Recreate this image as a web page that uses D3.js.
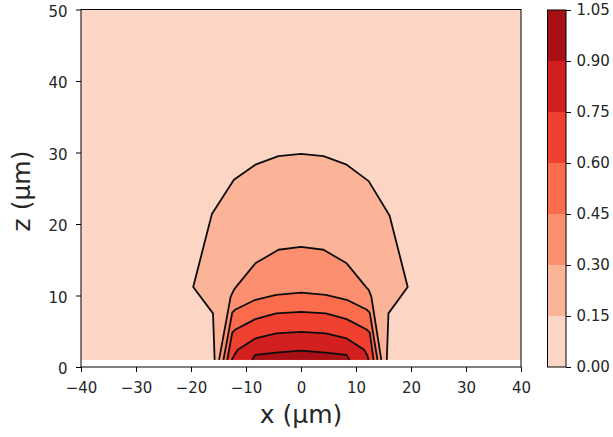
<!DOCTYPE html>
<html>
<head>
<meta charset="utf-8">
<script src="https://cdn.jsdelivr.net/npm/d3@7"></script>
<style>
  body { margin: 0; background: #fff; }
  svg text { font-family: "DejaVu Sans", sans-serif; fill: #262626; }
</style>
</head>
<body>
<svg id="chart" width="613" height="437"></svg>
<script>
// Contour levels and the fill colour of each band between consecutive levels
const levels = [0, 0.15, 0.30, 0.45, 0.60, 0.75, 0.90, 1.05];
const bandColors = ["#fdd5c4", "#fcb499", "#fc8f6f", "#fb6c4c", "#f0402f", "#d21f20", "#a91016"];

const xTicks = [-40, -30, -20, -10, 0, 10, 20, 30, 40];
const zTicks = [0, 10, 20, 30, 40, 50];

// Field extent (µm): data covers x in [-40, 40], z in [1, 50]
const xExtent = [-40, 40];
const zExtent = [1, 50];

// Iso-lines [x, z] in µm, left foot -> right foot (both feet sit on z = 1)
const line015 = [[-15.7, 1], [-16.0, 7.5], [-19.6, 11.2], [-16.2, 21.4], [-12.2, 26.2], [-8.3, 28.3],
                 [-4.1, 29.5], [0, 29.8], [4.1, 29.5], [8.3, 28.3], [12.3, 26.0], [16.1, 21.2],
                 [19.4, 11.2], [15.9, 7.5], [15.6, 1]];
const line030 = [[-14.9, 1], [-12.8, 9.8], [-12.2, 10.8], [-11.8, 11.2], [-8.3, 14.5], [-4.1, 16.4],
                 [0, 16.8], [4.1, 16.4], [8.3, 14.5], [11.8, 11.2], [12.3, 10.8], [12.8, 9.8], [14.6, 1]];
const line045 = [[-14.1, 1], [-12.5, 7.6], [-12.0, 8.0], [-8.3, 9.4], [-4.5, 10.1], [0, 10.4],
                 [4.5, 10.1], [8.3, 9.4], [12.0, 8.0], [12.5, 7.6], [13.9, 1]];
const line060 = [[-13.4, 1], [-12.5, 4.8], [-12.0, 5.2], [-8.3, 6.7], [-4.5, 7.5], [0, 7.7],
                 [4.5, 7.5], [8.3, 6.7], [12.0, 5.2], [12.5, 4.8], [13.2, 1]];
const line075 = [[-12.6, 1], [-12.1, 1.7], [-11.5, 2.4], [-8.3, 4.0], [-4.5, 4.7], [0, 4.9],
                 [4.5, 4.7], [8.3, 4.0], [11.5, 2.4], [12.0, 1.7], [12.3, 1]];
const line090 = [[-8.9, 1], [-8.3, 1.7], [-4.5, 2.0], [0, 2.3], [4.5, 2.0], [8.3, 1.7], [8.8, 1]];

const isoLines = [line015, line030, line045, line060, line075, line090];

const svg = d3.select("#chart");

// Plot frame
const plot = { left: 81, right: 521, top: 9.5, bottom: 367 };
const x = d3.scaleLinear().domain([-40, 40]).range([plot.left, plot.right]);
const z = d3.scaleLinear().domain([0, 50]).range([plot.bottom, plot.top]);

svg.append("defs").append("clipPath").attr("id", "plotClip")
  .append("rect")
  .attr("x", plot.left).attr("y", plot.top)
  .attr("width", plot.right - plot.left).attr("height", plot.bottom - plot.top);

const field = svg.append("g").attr("clip-path", "url(#plotClip)");

// Lowest band fills the whole data extent
field.append("rect")
  .attr("x", x(xExtent[0]))
  .attr("y", z(zExtent[1]))
  .attr("width", x(xExtent[1]) - x(xExtent[0]))
  .attr("height", z(zExtent[0]) - z(zExtent[1]))
  .attr("fill", bandColors[0]);

const lineGen = d3.line().x(d => x(d[0])).y(d => z(d[1]));

// Each iso-line closes along z = 1 and encloses the next band up
field.selectAll("path.band")
  .data(isoLines)
  .join("path")
  .attr("class", "band")
  .attr("d", d => lineGen(d) + "Z")
  .attr("fill", (d, i) => bandColors[i + 1]);

field.selectAll("path.iso")
  .data(isoLines)
  .join("path")
  .attr("class", "iso")
  .attr("d", d => lineGen(d))
  .attr("fill", "none")
  .attr("stroke", "#0d0d0d")
  .attr("stroke-width", 1.8)
  .attr("stroke-linejoin", "round");

// Axes
const fontSize = 15;
const xAxis = svg.append("g")
  .attr("transform", `translate(0,${plot.bottom})`)
  .call(d3.axisBottom(x).tickValues(xTicks).tickSize(5).tickPadding(10).tickSizeOuter(0));
const zAxis = svg.append("g")
  .attr("transform", `translate(${plot.left},0)`)
  .call(d3.axisLeft(z).tickValues(zTicks).tickSize(5).tickPadding(8.5).tickSizeOuter(0));

[xAxis, zAxis].forEach(g => {
  g.select(".domain").remove();
  g.selectAll(".tick line").attr("stroke", "#000").attr("stroke-width", 1);
  g.selectAll(".tick text").attr("font-size", fontSize).attr("font-family", "DejaVu Sans").attr("fill", "#262626");
});
zAxis.selectAll(".tick text").attr("dy", "0.45em");

// Frame (spines)
svg.append("rect")
  .attr("x", plot.left).attr("y", plot.top)
  .attr("width", plot.right - plot.left).attr("height", plot.bottom - plot.top)
  .attr("fill", "none").attr("stroke", "#000").attr("stroke-width", 1);

// Axis titles
svg.append("text")
  .attr("x", (plot.left + plot.right) / 2).attr("y", 423)
  .attr("text-anchor", "middle").attr("font-size", 25)
  .text("x (µm)");
svg.append("text")
  .attr("transform", `translate(30,191) rotate(-90)`)
  .attr("text-anchor", "middle").attr("font-size", 25)
  .text("z (µm)");

// Colour bar
const cb = { left: 547.5, right: 566, top: 10, bottom: 367 };
const c = d3.scaleLinear().domain([levels[0], levels[levels.length - 1]]).range([cb.bottom, cb.top]);
const bands = d3.range(levels.length - 1).map(i => ({ lo: levels[i], hi: levels[i + 1], color: bandColors[i] }));

svg.append("g").selectAll("rect")
  .data(bands)
  .join("rect")
  .attr("x", cb.left)
  .attr("y", d => c(d.hi))
  .attr("width", cb.right - cb.left)
  .attr("height", d => c(d.lo) - c(d.hi))
  .attr("fill", d => d.color)
  .attr("shape-rendering", "crispEdges");

svg.append("rect")
  .attr("x", cb.left).attr("y", cb.top)
  .attr("width", cb.right - cb.left).attr("height", cb.bottom - cb.top)
  .attr("fill", "none").attr("stroke", "#000").attr("stroke-width", 1);

const cAxis = svg.append("g")
  .attr("transform", `translate(${cb.right},0)`)
  .call(d3.axisRight(c).tickValues(levels).tickFormat(d3.format(".2f")).tickSize(5).tickPadding(5.5).tickSizeOuter(0));
cAxis.select(".domain").remove();
cAxis.selectAll(".tick line").attr("stroke", "#000");
cAxis.selectAll(".tick text").attr("font-size", fontSize).attr("font-family", "DejaVu Sans").attr("fill", "#262626");
</script>
</body>
</html>
